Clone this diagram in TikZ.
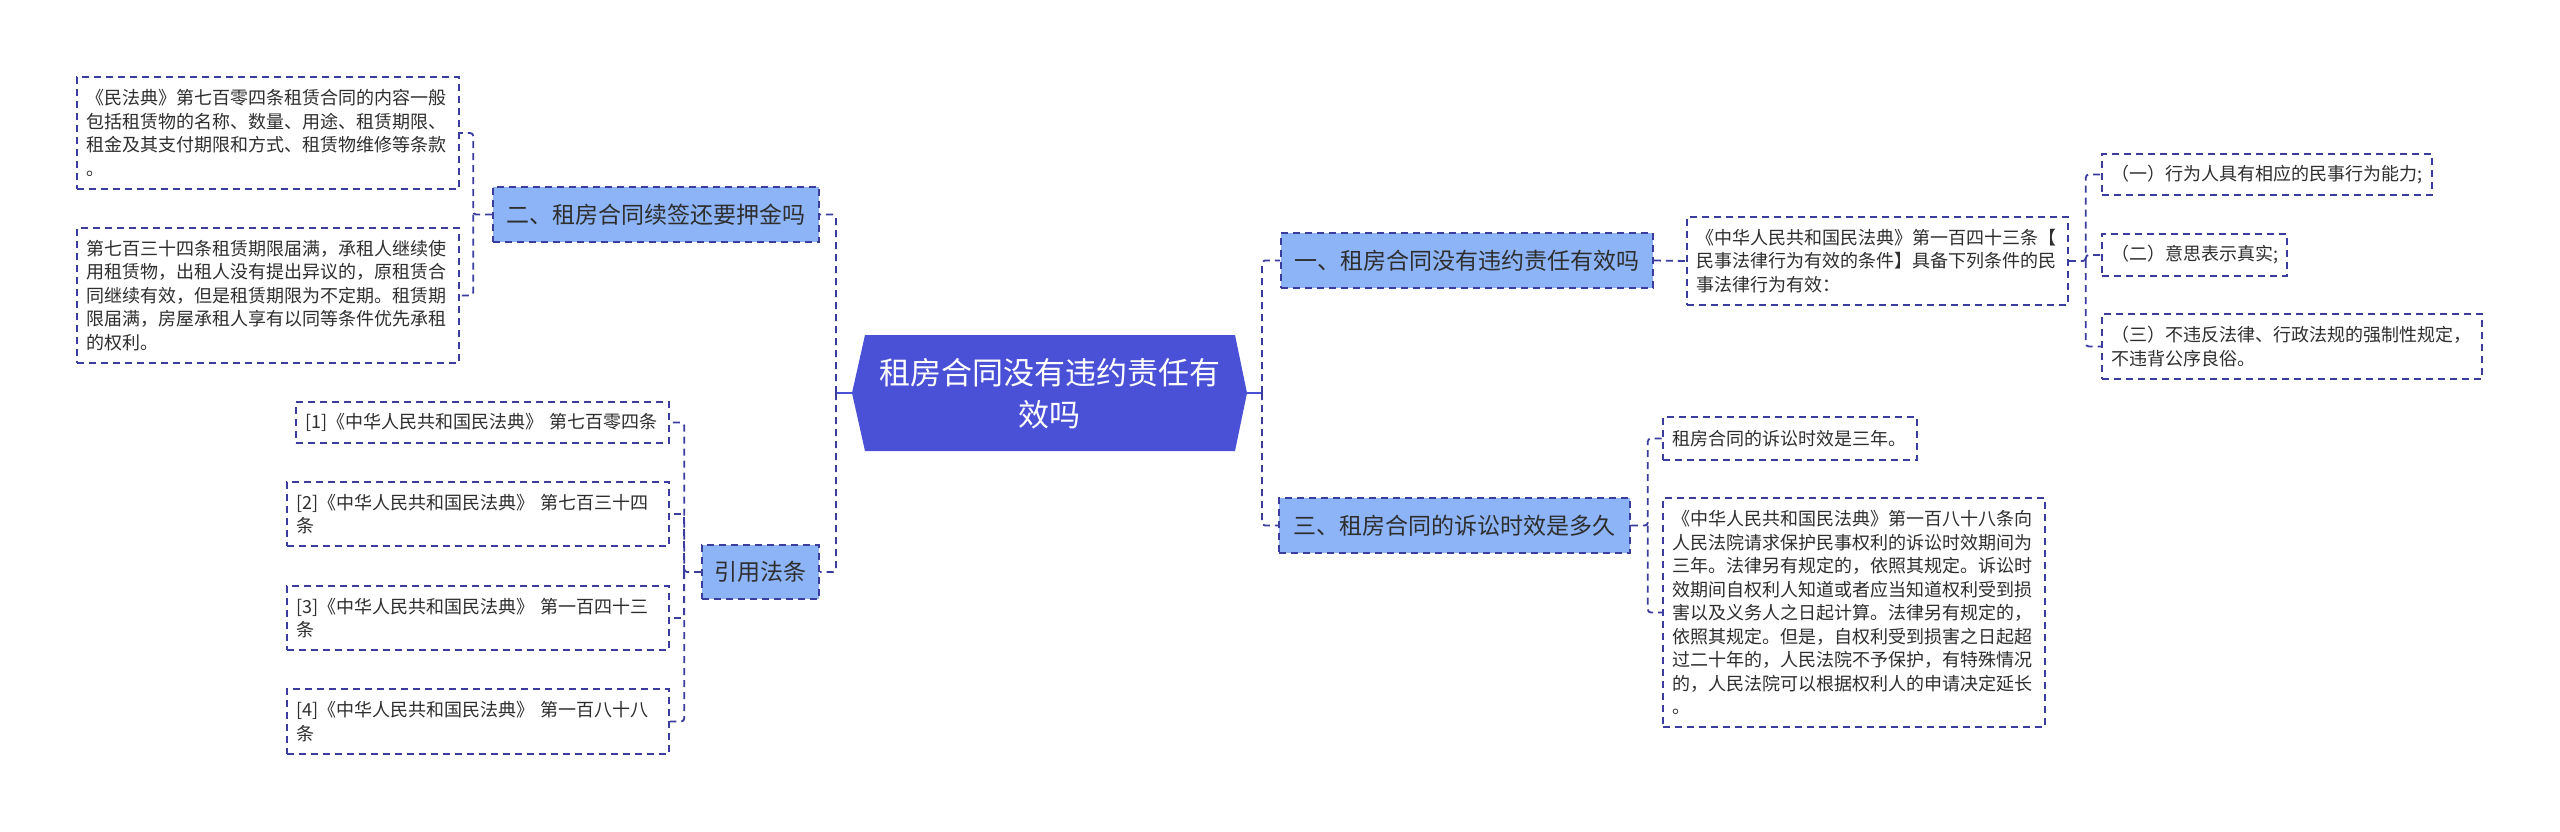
\documentclass[tikz,border=0pt]{standalone}
\usepackage{fontspec}
\setmainfont{Noto Sans CJK SC}
\definecolor{hexc}{HTML}{4A51D7}
\definecolor{hb}{HTML}{8DB4F7}
\definecolor{lc}{HTML}{3A3C9E}
\definecolor{tc}{HTML}{2E2E2E}
\newcommand\sfs{\fontsize{18pt}{23.5pt}\selectfont}
\newcommand\hfs{\fontsize{23pt}{28pt}\selectfont}
\newcommand\rfs{\fontsize{31pt}{42pt}\selectfont}
\tikzset{
  dsh/.style={dash pattern=on 7pt off 5pt},
  sbox/.style={draw=lc, dsh, line width=1.6pt, inner xsep=9pt, inner ysep=0pt, align=left, font=\sfs, text=tc},
  head/.style={draw=lc, dsh, line width=1.6pt, fill=hb, inner xsep=0pt, inner ysep=0pt, font=\hfs, text=tc, minimum height=55pt},
  conn/.style={draw=lc, dsh, line width=1.8pt, rounded corners=3pt},
  sconn/.style={draw=hexc, line width=2pt},
}
\begin{document}
\begin{tikzpicture}[x=1pt,y=-1pt]
\useasboundingbox[fill=white] (0,0) rectangle (2560,832);
% root hexagon
\fill[hexc] (852,393) -- (865,335) -- (1235,335) -- (1247,393) -- (1235,451) -- (865,451) -- cycle;
\coordinate (hl) at (852,393);
\coordinate (hr) at (1247,393);
\node[text=white, font=\rfs, align=center, inner sep=0pt] (root) at (1049.5,394) {租房合同没有违约责任有\\效吗};
\coordinate (lb) at (836,393);
\coordinate (rb) at (1262,393);

% left branch
\node[head, minimum width=326pt] (n2) at (656,214.5) {二、租房合同续签还要押金吗};
\node[sbox, text width=364pt, minimum height=112pt] (A) at (268,133) {《民法典》第七百零四条租赁合同的内容一般\\包括租赁物的名称、数量、用途、租赁期限、\\租金及其支付期限和方式、租赁物维修等条款\\。};
\node[sbox, text width=364pt, minimum height=135pt] (B) at (268,295.5) {第七百三十四条租赁期限届满，承租人继续使\\用租赁物，出租人没有提出异议的，原租赁合\\同继续有效，但是租赁期限为不定期。租赁期\\限届满，房屋承租人享有以同等条件优先承租\\的权利。};

\node[head, minimum width=117pt, minimum height=54pt] (cite) at (760.5,572) {引用法条};
\node[sbox, text width=355pt, minimum height=41pt] (c1) at (482.5,422.5) {[1]《中华人民共和国民法典》 第七百零四条};
\node[sbox, text width=364pt, minimum height=64pt] (c2) at (478,514) {[2]《中华人民共和国民法典》 第七百三十四\\条};
\node[sbox, text width=364pt, minimum height=64pt] (c3) at (478,618) {[3]《中华人民共和国民法典》 第一百四十三\\条};
\node[sbox, text width=364pt, minimum height=65pt] (c4) at (478,721.5) {[4]《中华人民共和国民法典》 第一百八十八\\条};

% right branch
\node[head, minimum width=372pt] (n1) at (1467,260.5) {一、租房合同没有违约责任有效吗};
\node[sbox, text width=363pt, minimum height=88pt] (C) at (1877.5,261) {《中华人民共和国民法典》第一百四十三条【\\民事法律行为有效的条件】具备下列条件的民\\事法律行为有效：};
\node[sbox, text width=312pt, minimum height=41pt] (i1) at (2267,174.5) {（一）行为人具有相应的民事行为能力;};
\node[sbox, text width=167pt, minimum height=42pt] (i2) at (2194.5,255) {（二）意思表示真实;};
\node[sbox, text width=362pt, minimum height=65pt] (i3) at (2292,346.5) {（三）不违反法律、行政法规的强制性规定，\\不违背公序良俗。};

\node[head, minimum width=351pt] (n3) at (1454.5,525.5) {三、租房合同的诉讼时效是多久};
\node[sbox, text width=236pt, minimum height=43pt] (D) at (1790,438.5) {租房合同的诉讼时效是三年。};
\node[sbox, text width=364pt, minimum height=229pt] (E) at (1854,612.5) {《中华人民共和国民法典》第一百八十八条向\\人民法院请求保护民事权利的诉讼时效期间为\\三年。法律另有规定的，依照其规定。诉讼时\\效期间自权利人知道或者应当知道权利受到损\\害以及义务人之日起计算。法律另有规定的，\\依照其规定。但是，自权利受到损害之日起超\\过二十年的，人民法院不予保护，有特殊情况\\的，人民法院可以根据权利人的申请决定延长\\。};

% connectors
\draw[sconn] (hl) -- (lb);
\draw[sconn] (hr) -- (rb);
\draw[conn] (lb) |- (n2.east);
\draw[conn] (lb) |- (cite.east);
\draw[conn] (rb) |- (n1.west);
\draw[conn] (rb) |- (n3.west);

\draw[conn] (n2.west) -- ++(-19,0) coordinate (ab) |- (A.east);
\draw[conn] (ab) |- (B.east);

\draw[conn] (cite.west) -- ++(-17,0) coordinate (cb) |- (c1.east);
\draw[conn] (cb) |- (c2.east);
\draw[conn] (cb) |- (c3.east);
\draw[conn] (cb) |- (c4.east);

\draw[conn] (n1.east) -- (C.west);
\draw[conn] (C.east) -- ++(17,0) coordinate (ib) |- (i1.west);
\draw[conn] (ib) |- (i2.west);
\draw[conn] (ib) |- (i3.west);

\draw[conn] (n3.east) -- ++(17,0) coordinate (db) |- (D.west);
\draw[conn] (db) |- (E.west);
\end{tikzpicture}
\end{document}
